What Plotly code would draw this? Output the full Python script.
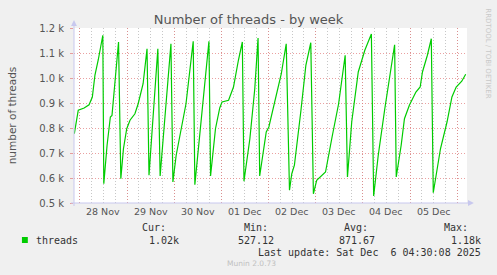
import plotly.graph_objects as go

# ---- data ----
times = [
    "2025-11-27 21:10", "2025-11-27 23:10", "2025-11-28 02:10", "2025-11-28 04:40",
    "2025-11-28 06:20", "2025-11-28 07:40", "2025-11-28 09:20", "2025-11-28 11:40",
    "2025-11-28 12:10", "2025-11-28 13:50", "2025-11-28 15:30", "2025-11-28 16:20",
    "2025-11-28 19:40", "2025-11-28 20:50", "2025-11-28 22:10", "2025-11-28 23:50",
    "2025-11-29 01:30", "2025-11-29 04:00", "2025-11-29 05:40", "2025-11-29 08:10",
    "2025-11-29 10:10", "2025-11-29 11:10", "2025-11-29 15:40", "2025-11-29 16:50",
    "2025-11-29 22:20", "2025-11-29 23:20", "2025-11-30 01:00", "2025-11-30 03:30",
    "2025-11-30 06:00", "2025-11-30 07:40", "2025-11-30 09:40", "2025-11-30 10:30",
    "2025-11-30 12:40", "2025-11-30 15:10", "2025-11-30 17:40", "2025-11-30 18:30",
    "2025-11-30 21:00", "2025-11-30 23:10", "2025-12-01 00:20", "2025-12-01 03:40",
    "2025-12-01 06:10", "2025-12-01 08:40", "2025-12-01 10:40", "2025-12-01 11:30",
    "2025-12-01 14:30", "2025-12-01 17:00", "2025-12-01 18:40", "2025-12-01 19:30",
    "2025-12-01 22:50", "2025-12-02 00:10", "2025-12-02 01:30", "2025-12-02 04:00",
    "2025-12-02 06:30", "2025-12-02 09:00", "2025-12-02 10:40", "2025-12-02 11:50",
    "2025-12-02 13:10", "2025-12-02 16:30", "2025-12-02 19:00", "2025-12-02 21:30",
    "2025-12-02 22:50", "2025-12-03 00:30", "2025-12-03 02:30", "2025-12-03 05:00",
    "2025-12-03 08:20", "2025-12-03 11:40", "2025-12-03 15:00", "2025-12-03 16:10",
    "2025-12-03 18:20", "2025-12-03 21:40", "2025-12-04 01:00", "2025-12-04 04:20",
    "2025-12-04 05:30", "2025-12-04 07:50", "2025-12-04 11:10", "2025-12-04 13:40",
    "2025-12-04 16:10", "2025-12-04 17:00", "2025-12-04 19:30", "2025-12-04 21:10",
    "2025-12-04 23:40", "2025-12-05 03:00", "2025-12-05 05:10", "2025-12-05 06:20",
    "2025-12-05 08:50", "2025-12-05 10:50", "2025-12-05 11:50", "2025-12-05 15:30",
    "2025-12-05 18:50", "2025-12-05 21:20", "2025-12-05 23:30", "2025-12-06 02:20",
    "2025-12-06 04:20",
]
threads = [
    777, 871, 880, 893,
    924, 1012, 1072, 1171,
    577, 731, 844, 850,
    1144, 597, 717, 797,
    831, 857, 897, 977,
    1117, 611, 1117, 608,
    1137, 584, 691, 797,
    897, 1011, 1147, 573,
    744, 957, 1147, 608,
    797, 880, 904, 911,
    964, 1071, 1144, 587,
    757, 957, 1160, 608,
    784, 804, 851, 931,
    1017, 1137, 551, 617,
    651, 871, 1051, 1141,
    537, 591, 604, 624,
    764, 897, 1091, 604,
    824, 1024, 1111, 1176,
    528, 691, 877, 997,
    1133, 604, 731, 837,
    891, 944, 964, 1024,
    1091, 1157, 541, 717,
    824, 924, 964, 987,
    1015,
]

y_ticks = [500, 600, 700, 800, 900, 1000, 1100, 1200]
y_tick_labels = ["0.5 k", "0.6 k", "0.7 k", "0.8 k", "0.9 k", "1.0 k", "1.1 k", "1.2 k"]
day_starts = ["2025-11-28", "2025-11-29", "2025-11-30", "2025-12-01",
              "2025-12-02", "2025-12-03", "2025-12-04", "2025-12-05", "2025-12-06"]
day_label_pos = ["2025-11-28 12:00", "2025-11-29 12:00", "2025-11-30 12:00", "2025-12-01 12:00",
                 "2025-12-02 12:00", "2025-12-03 12:00", "2025-12-04 12:00", "2025-12-05 12:00"]
day_labels = ["28 Nov", "29 Nov", "30 Nov", "01 Dec", "02 Dec", "03 Dec", "04 Dec", "05 Dec"]
x_range = ["2025-11-27 21:00", "2025-12-06 05:00"]

legend_name = "threads"
stat_heads = ["Cur:", "Min:", "Avg:", "Max:"]
stat_values = ["1.02k", "527.12", "871.67", "1.18k"]

W, H = 497, 275
L, R, T, B = 67, 467, 28, 203  # plot area in pixels


def px(x):
    return (x - L) / (R - L)


def py(y):
    return (B - y) / (B - T)


fig = go.Figure()
fig.add_trace(go.Scatter(
    x=times, y=threads, mode="lines",
    line=dict(color="#00CC00", width=1.2),
    showlegend=False, hoverinfo="skip",
))

grid_red = "rgba(225,120,120,0.7)"
grid_gray = "rgba(180,180,180,0.75)"
axis_col = "#C8C8EE"
text_col = "#555555"
mono = "DejaVu Sans Mono"

fig.update_layout(
    width=W, height=H,
    margin=dict(l=L, r=W - R, t=T, b=H - B),
    paper_bgcolor="#F0F0F0",
    plot_bgcolor="#FFFFFF",
    font=dict(family="DejaVu Sans", size=10, color=text_col),
    title=dict(text="Number of threads - by week", x=0.5, xref="container",
               y=1 - 19 / H, yref="container", xanchor="center", yanchor="middle",
               font=dict(size=13, color=text_col, family="DejaVu Sans")),
    showlegend=False,
)

fig.update_xaxes(
    type="date", range=x_range,
    tickmode="array", tickvals=day_starts, ticktext=[""] * len(day_starts),
    showgrid=True, gridcolor=grid_red, griddash="1px,2px", gridwidth=1,
    ticks="", showline=False, zeroline=False,
    minor=dict(dtick=6 * 3600 * 1000, tick0="2025-11-28", showgrid=True,
               gridcolor=grid_gray, griddash="1px,2px", gridwidth=1),
)
fig.update_yaxes(
    range=[500, 1200], tickmode="array", tickvals=y_ticks, ticktext=y_tick_labels,
    showgrid=True, gridcolor=grid_red, griddash="1px,2px", gridwidth=1,
    ticks="outside", ticklen=3, tickcolor=grid_red, ticklabelstandoff=4,
    showline=False, zeroline=False,
    tickfont=dict(size=10, color=text_col),
    title=dict(text="number of threads", standoff=20, font=dict(size=10.5, color=text_col)),
)

shapes = []
# axis lines with arrows
shapes.append(dict(type="line", xref="paper", yref="paper", x0=px(L - 3), x1=px(R + 2),
                   y0=0, y1=0, line=dict(color=axis_col, width=1)))
shapes.append(dict(type="line", xref="paper", yref="paper", x0=0, x1=0,
                   y0=py(B + 3), y1=py(T - 3), line=dict(color=axis_col, width=1)))
shapes.append(dict(type="path", xref="paper", yref="paper",
                   path=f"M {px(R + 1)} {py(B - 3)} L {px(R + 7)} {py(B)} L {px(R + 1)} {py(B + 3)} Z",
                   fillcolor=axis_col, line=dict(width=0)))
shapes.append(dict(type="path", xref="paper", yref="paper",
                   path=f"M {px(L - 3)} {py(T - 2)} L {px(L)} {py(T - 8)} L {px(L + 3)} {py(T - 2)} Z",
                   fillcolor=axis_col, line=dict(width=0)))
# legend swatch
shapes.append(dict(type="rect", xref="paper", yref="paper", x0=px(14), x1=px(20),
                   y0=py(243), y1=py(237), fillcolor="#00CC00", line=dict(width=0)))
fig.update_layout(shapes=shapes)

ann = []
for pos, lab in zip(day_label_pos, day_labels):
    ann.append(dict(x=pos, xref="x", y=py(211.5), yref="paper", text=lab, showarrow=False,
                    xanchor="center", yanchor="middle", font=dict(size=9.5, color=text_col)))

ann.append(dict(x=px(26), y=py(240), xref="paper", yref="paper", text=legend_name,
                showarrow=False, xanchor="left", yanchor="middle",
                font=dict(family=mono, size=10, color="#333333")))
head_right = [163, 266, 368, 470]
val_right = [176, 273, 375, 483]
for h, hr in zip(stat_heads, head_right):
    ann.append(dict(x=px(hr), y=py(227), xref="paper", yref="paper", text=h,
                    showarrow=False, xanchor="right", yanchor="middle",
                    font=dict(family=mono, size=10, color="#333333")))
for v, vr in zip(stat_values, val_right):
    ann.append(dict(x=px(vr), y=py(240), xref="paper", yref="paper", text=v,
                    showarrow=False, xanchor="right", yanchor="middle",
                    font=dict(family=mono, size=10, color="#333333")))
ann.append(dict(x=px(483), y=py(252), xref="paper", yref="paper",
                text="Last update: Sat Dec&nbsp;&nbsp;6 04:30:08 2025",
                showarrow=False, xanchor="right", yanchor="middle",
                font=dict(family=mono, size=10, color="#333333")))
ann.append(dict(x=px(248), y=py(263.5), xref="paper", yref="paper", text="Munin 2.0.73",
                showarrow=False, xanchor="center", yanchor="middle",
                font=dict(family="DejaVu Sans", size=7.5, color="#C0C0C0")))
ann.append(dict(x=px(488), y=py(53), xref="paper", yref="paper", text="RRDTOOL / TOBI OETIKER",
                showarrow=False, xanchor="center", yanchor="middle", textangle=90,
                font=dict(family="DejaVu Sans", size=7, color="#C8C8C8")))
fig.update_layout(annotations=ann)

fig.write_html("out.html")
